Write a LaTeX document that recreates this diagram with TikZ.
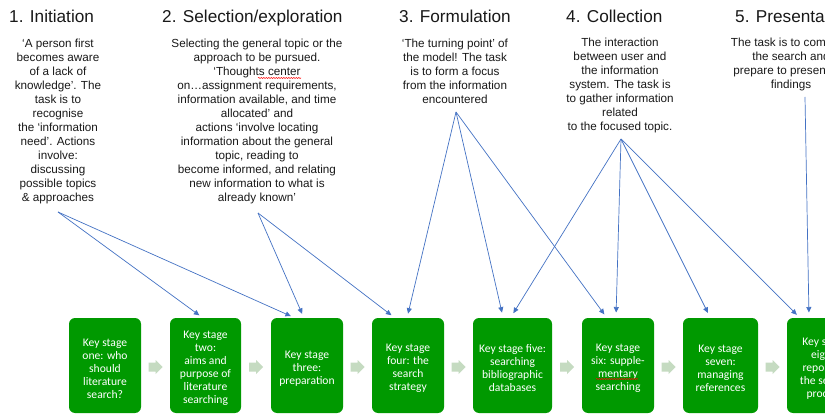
\documentclass[tikz,border=0pt]{standalone}
\usepackage{fontspec}
\setmainfont{Liberation Sans}
\newfontfamily\boxfont{Carlito}
\usetikzlibrary{arrows.meta,calc,decorations.pathmorphing}
\definecolor{kgreen}{RGB}{0,153,0}
\definecolor{chevcol}{RGB}{197,219,193}
\definecolor{linkblue}{RGB}{68,114,196}
\definecolor{txt}{RGB}{25,25,25}
\begin{document}
\begin{tikzpicture}[x=1pt,y=-1pt,
  title/.style={font=\fontsize{17.2}{20}\selectfont, anchor=base west, inner sep=0, text=txt},
  body/.style={font=\fontsize{11.7}{14}\selectfont, align=center, anchor=north, inner sep=0, text=txt},
  kbox/.style={fill=kgreen, rounded corners=6pt, minimum height=95pt, inner sep=0},
  ktext/.style={text=white, align=center, font=\boxfont\fontsize{11.6}{13}\selectfont, inner sep=0},
  link/.style={draw=linkblue, line width=0.7pt, -{Triangle[length=5.5pt,width=5pt]}, shorten >=4.5pt},
  chev/.pic={\fill[chevcol] (-7,-4.5) -- (0,-4.5) -- (0,-7) -- (7,0) -- (0,7) -- (0,4.5) -- (-7,4.5) -- cycle;},
  spell/.style={draw=red, line width=0.5pt, decorate, decoration={snake, segment length=2.5pt, amplitude=0.6pt}}
]
\clip (0,0) rectangle (825,414);
\fill[white] (0,0) rectangle (825,414);

% titles
\node[title] (t1) at (9,23) {1. Initiation};
\node[title] (t2) at (162,23) {2. Selection/exploration};
\node[title] (t3) at (399,23) {3. Formulation};
\node[title] (t4) at (566,23) {4. Collection};
\node[title] (t5) at (735,23) {5. Presentation};

% descriptions
\node[body] (d1) at (58,38.5) {‘A person first\\ becomes aware\\ of a lack of\\ knowledge’. The\\ task is to\\ recognise\\ the ‘information\\ need’. Actions\\ involve:\\ discussing\\ possible topics\\ \& approaches};
\node[body] (d2) at (257,38.5) {Selecting the general topic or the\\ approach to be pursued.\\ ‘Thoughts center\\ on…assignment requirements,\\ information available, and time\\ allocated’ and\\ actions ‘involve locating\\ information about the general\\ topic, reading to\\ become informed, and relating\\ new information to what is\\ already known’};
\node[body] (d3) at (455,38.5) {‘The turning point’ of\\ the model! The task\\ is to form a focus\\ from the information\\ encountered};
\node[body] (d4) at (620,37.5) {The interaction\\ between user and\\ the information\\ system. The task is\\ to gather information\\ related\\ to the focused topic.};
\node[body] (d5) at (791,37.5) {The task is to complete\\ the search and\\ prepare to present the\\ findings};

% key stage boxes
\node[kbox, minimum width=72pt] (k1) at (105,365.5) {};
\node[kbox, minimum width=71pt] (k2) at (205.5,365.5) {};
\node[kbox, minimum width=72pt] (k3) at (307,365.5) {};
\node[kbox, minimum width=72pt] (k4) at (408,365.5) {};
\node[kbox, minimum width=79pt] (k5) at (512.5,365.5) {};
\node[kbox, minimum width=72pt] (k6) at (618,365.5) {};
\node[kbox, minimum width=75pt] (k7) at (720.5,365.5) {};
\node[kbox, minimum width=75pt] (k8) at (824.5,365.5) {};

\node[ktext] (k1t) at ($(k1)+(0,3)$) {Key stage\\ one: who\\ should\\ literature\\ search?};
\node[ktext] (k2t) at ($(k2)+(0,3)$) {Key stage\\ two:\\ aims and\\ purpose of\\ literature\\ searching};
\node[ktext] (k3t) at ($(k3)+(0,3)$) {Key stage\\ three:\\ preparation};
\node[ktext] (k4t) at ($(k4)+(0,3)$) {Key stage\\ four: the\\ search\\ strategy};
\node[ktext] (k5t) at ($(k5)+(0,3)$) {Key stage five:\\ searching\\ bibliographic\\ databases};
\node[ktext] (k6t) at ($(k6)+(0,3)$) {Key stage\\ six: supple-\\ mentary\\ searching};
\node[ktext] (k7t) at ($(k7)+(0,3)$) {Key stage\\ seven:\\ managing\\ references};
\node[ktext] (k8t) at ($(k8)+(0,3)$) {Key stage\\ eight:\\ reporting\\ the search\\ process};

% chevrons between boxes
\foreach \a/\b in {k1/k2,k2/k3,k3/k4,k4/k5,k5/k6,k6/k7,k7/k8}
  \pic at ($(\a.east)!0.5!(\b.west)+(0,1.5)$) {chev};

% spell-check underlines
\draw[spell] (258,78) -- (301,78);
\draw[spell] (596,379) -- (638,379);

% connector sources
\coordinate (s1) at (58,212);
\coordinate (s2) at (258,213);
\coordinate (s3) at (456,112);
\coordinate (s4) at (621,139);
\coordinate (s5) at (805,97);

% connector targets on box tops
\coordinate (k2a) at (203,318);
\coordinate (k3a) at (295,318);
\coordinate (k3b) at (304,318);
\coordinate (k4a) at (395,318);
\coordinate (k4b) at (407,318);
\coordinate (k5a) at (503,317);
\coordinate (k5b) at (511,317);
\coordinate (k6a) at (607,318);
\coordinate (k6b) at (616,317);
\coordinate (k7a) at (710,317);
\coordinate (k8a) at (800,318);
\coordinate (k8b) at (809,317);

\draw[link] (s1) -- (k2a);
\draw[link] (s1) -- (k3a);
\draw[link] (s2) -- (k3b);
\draw[link] (s2) -- (k4a);
\draw[link] (s3) -- (k4b);
\draw[link] (s3) -- (k5a);
\draw[link] (s3) -- (k6a);
\draw[link] (s4) -- (k5b);
\draw[link] (s4) -- (k6b);
\draw[link] (s4) -- (k7a);
\draw[link] (s4) -- (k8a);
\draw[link] (s5) -- (k8b);
\end{tikzpicture}
\end{document}
